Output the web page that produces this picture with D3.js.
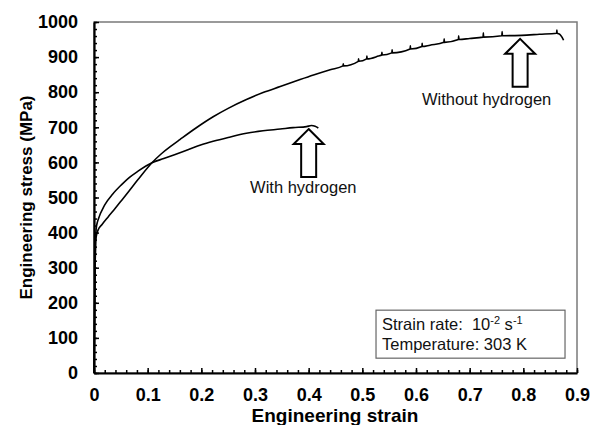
<!DOCTYPE html>
<html>
<head>
<meta charset="utf-8">
<script src="https://cdn.jsdelivr.net/npm/d3@7"></script>
<style>
  body { margin: 0; background: #fff; }
  svg text { font-family: "Liberation Sans", Arial, sans-serif; fill: #000; }
</style>
</head>
<body>
<svg id="chart" width="592" height="425"></svg>
<script>
// strain, stress (MPa)
const withH = [
  [0, 0], [0.002, 300], [0.003, 380], [0.004, 410], [0.006, 428], [0.0075, 436],
  [0.02, 479], [0.035, 510], [0.051, 536], [0.065, 556], [0.082, 575], [0.108, 599],
  [0.13, 611], [0.15, 622], [0.175, 636], [0.2, 650], [0.222, 660], [0.25, 671],
  [0.284, 683], [0.315, 690], [0.347, 695], [0.371, 699], [0.396, 702], [0.405, 705],
  [0.412, 703], [0.418, 698]
];

const withoutH = [
  [0, 0], [0.002, 300], [0.003, 375], [0.005, 395], [0.0075, 407], [0.015, 423],
  [0.026, 444], [0.04, 470], [0.051, 491], [0.065, 518], [0.082, 551], [0.108, 599],
  [0.125, 624], [0.144, 647], [0.16, 665], [0.19, 698], [0.222, 730], [0.25, 754],
  [0.284, 779], [0.315, 799], [0.347, 816], [0.384, 836], [0.409, 849], [0.44, 864],
  [0.464, 875], [0.4645, 881], [0.465, 875],
  [0.4925, 888], [0.493, 895], [0.4935, 888],
  [0.508, 895], [0.5085, 903], [0.509, 895],
  [0.53, 903],
  [0.536, 906], [0.5365, 914], [0.537, 906],
  [0.555, 912], [0.5555, 921], [0.556, 912],
  [0.589, 923], [0.5895, 932], [0.590, 923],
  [0.611, 930], [0.6115, 939], [0.612, 930],
  [0.626, 934],
  [0.652, 942], [0.6525, 952], [0.653, 942],
  [0.679, 950], [0.6795, 961], [0.680, 950],
  [0.7, 953],
  [0.725, 957], [0.7255, 969], [0.726, 957],
  [0.76, 961], [0.7605, 973], [0.761, 961],
  [0.797, 962], [0.83, 965],
  [0.862, 968], [0.8625, 977], [0.863, 968],
  [0.868, 965], [0.872, 957], [0.875, 948]
];

const xTicks = [0, 0.1, 0.2, 0.3, 0.4, 0.5, 0.6, 0.7, 0.8, 0.9];
const yTicks = [0, 100, 200, 300, 400, 500, 600, 700, 800, 900, 1000];

// arrow tips and labels (strain, stress)
const arrows = [
  {label: "With hydrogen", tip: [0.40, 695], text: [0.39, 513]},
  {label: "Without hydrogen", tip: [0.794, 952], text: [0.7315, 764]}
];

const svg = d3.select("#chart"),
      margin = {top: 22, right: 15, bottom: 52, left: 94},
      width = +svg.attr("width") - margin.left - margin.right,
      height = +svg.attr("height") - margin.top - margin.bottom;

const g = svg.append("g")
  .attr("transform", `translate(${margin.left},${margin.top})`);

const x = d3.scaleLinear().domain([0, 0.9]).range([0, width]);
const y = d3.scaleLinear().domain([0, 1000]).range([height, 0]);

// frame (top / right in gray)
g.append("rect")
  .attr("x", 0).attr("y", 0)
  .attr("width", width).attr("height", height)
  .attr("fill", "none")
  .attr("stroke", "#7a7a7a")
  .attr("stroke-width", 1.5);

// minor ticks
g.append("g")
  .attr("transform", `translate(0,${height})`)
  .call(d3.axisBottom(x).tickValues(d3.range(0, 0.9001, 0.02)).tickSize(-3).tickSizeOuter(0).tickFormat(""))
  .call(a => a.select(".domain").remove())
  .selectAll("line").attr("stroke-width", 1.5);

g.append("g")
  .call(d3.axisLeft(y).tickValues(d3.range(0, 1001, 20)).tickSize(-3).tickSizeOuter(0).tickFormat(""))
  .call(a => a.select(".domain").remove())
  .selectAll("line").attr("stroke-width", 1.5);

// major axes
const xAxis = g.append("g")
  .attr("transform", `translate(0,${height})`)
  .call(d3.axisBottom(x).tickValues(xTicks).tickSize(-5).tickSizeOuter(0).tickPadding(15)
    .tickFormat(d => d === 0 ? "0" : d3.format(".1f")(d)));

const yAxis = g.append("g")
  .call(d3.axisLeft(y).tickValues(yTicks).tickSize(-5).tickSizeOuter(0).tickPadding(16)
    .tickFormat(d3.format("d")));

[xAxis, yAxis].forEach(a => {
  a.select(".domain").attr("stroke-width", 2.2);
  a.selectAll("line").attr("stroke-width", 1.5);
  a.selectAll("text")
    .style("font-size", "18px")
    .style("font-weight", "bold");
});

// curves
const line = d3.line().curve(d3.curveMonotoneX).x(d => x(d[0])).y(d => y(d[1]));
[withH, withoutH].forEach(s => {
  g.append("path")
    .datum(s)
    .attr("fill", "none")
    .attr("stroke", "#000")
    .attr("stroke-width", 1.6)
    .attr("stroke-linejoin", "round")
    .attr("d", line);
});

// arrows + labels
arrows.forEach(a => {
  const tx = x(a.tip[0]), ty = y(a.tip[1]);
  const hw = 15, sw = 7.5, hl = 15, len = 48;
  const pts = [
    [tx, ty], [tx + hw, ty + hl], [tx + sw, ty + hl], [tx + sw, ty + len],
    [tx - sw, ty + len], [tx - sw, ty + hl], [tx - hw, ty + hl]
  ];
  g.append("polygon")
    .attr("points", pts.map(p => p.join(",")).join(" "))
    .attr("fill", "#fff")
    .attr("stroke", "#000")
    .attr("stroke-width", 2)
    .attr("stroke-linejoin", "miter");

  g.append("text")
    .attr("x", x(a.text[0]))
    .attr("y", y(a.text[1]))
    .attr("text-anchor", "middle")
    .style("font-size", "16.5px")
    .style("fill", "#111")
    .text(a.label);
});

// condition box
const box = g.append("g").attr("transform", `translate(${x(0.5255)},${y(179)})`);
box.append("rect")
  .attr("width", 189).attr("height", 48)
  .attr("fill", "#fff")
  .attr("stroke", "#666")
  .attr("stroke-width", 1.2);

const t1 = box.append("text").attr("x", 6).attr("y", 20).style("font-size", "16.5px").style("fill", "#111");
t1.append("tspan").text("Strain rate:\u00a0\u00a010");
t1.append("tspan").attr("dy", -6).style("font-size", "11px").text("-2");
t1.append("tspan").attr("dy", 6).text(" s");
t1.append("tspan").attr("dy", -6).style("font-size", "11px").text("-1");

box.append("text").attr("x", 6).attr("y", 40).style("font-size", "16.5px").style("fill", "#111")
  .text("Temperature: 303 K");

// axis titles
svg.append("text")
  .attr("x", 335)
  .attr("y", 422)
  .attr("text-anchor", "middle")
  .style("font-size", "19px")
  .style("font-weight", "bold")
  .text("Engineering strain");

svg.append("text")
  .attr("transform", `translate(32,${margin.top + height / 2}) rotate(-90)`)
  .attr("text-anchor", "middle")
  .style("font-size", "17px")
  .style("font-weight", "bold")
  .text("Engineering stress (MPa)");
</script>
</body>
</html>
